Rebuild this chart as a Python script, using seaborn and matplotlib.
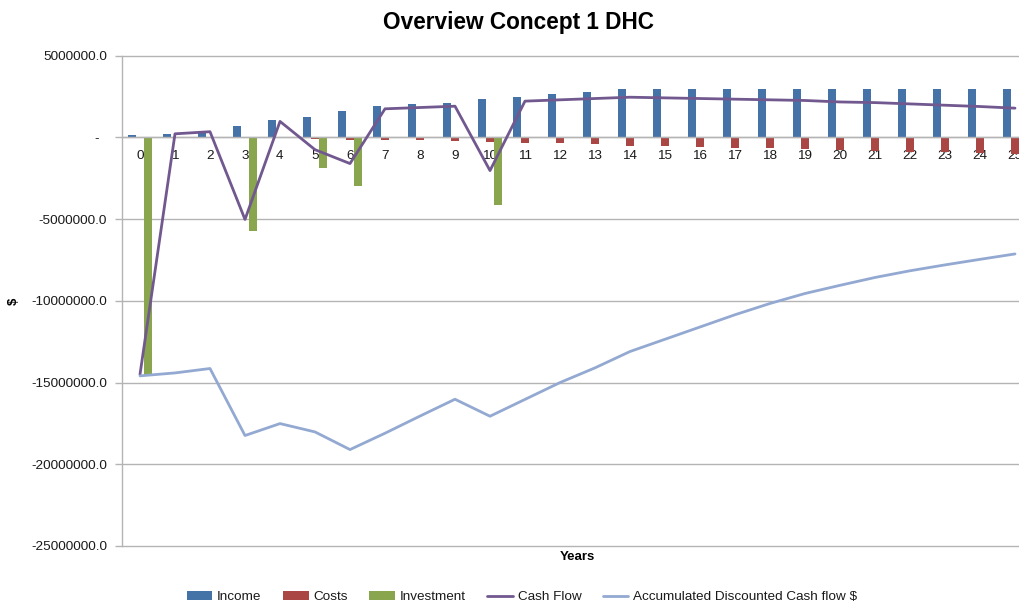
import numpy as np
import pandas as pd
import matplotlib
matplotlib.use("Agg")
import matplotlib.pyplot as plt
import seaborn as sns
from matplotlib import font_manager
from matplotlib.patches import Patch
from matplotlib.lines import Line2D
from matplotlib.ticker import FixedLocator, FuncFormatter

# ---------------- data ----------------
years = list(range(26))
income = [0.15e6, 0.22e6, 0.30e6, 0.71e6, 1.06e6, 1.26e6, 1.61e6, 1.91e6, 2.04e6, 2.12e6,
          2.36e6, 2.50e6, 2.66e6, 2.78e6, 2.97e6, 2.97e6, 2.97e6, 2.97e6, 2.97e6, 2.97e6,
          2.97e6, 2.97e6, 2.97e6, 2.97e6, 2.97e6, 2.97e6]
costs = [0.0, 0.0, 0.0, 0.0, -0.06e6, -0.10e6, -0.14e6, -0.18e6, -0.18e6, -0.24e6,
         -0.28e6, -0.33e6, -0.37e6, -0.43e6, -0.51e6, -0.55e6, -0.59e6, -0.63e6, -0.67e6, -0.71e6,
         -0.79e6, -0.83e6, -0.87e6, -0.91e6, -0.96e6, -1.00e6]
investment = [-14.6e6, 0.0, 0.0, -5.7e6, 0.0, -1.85e6, -3.0e6, 0.0, 0.0, 0.0,
              -4.12e6, 0.0, 0.0, 0.0, 0.0, 0.0, 0.0, 0.0, 0.0, 0.0,
              0.0, 0.0, 0.0, 0.0, 0.0, 0.0]
cash_flow = [-14.5e6, 0.22e6, 0.35e6, -5.02e6, 0.98e6, -0.75e6, -1.6e6, 1.75e6, 1.83e6, 1.91e6,
             -2.03e6, 2.22e6, 2.30e6, 2.38e6, 2.46e6, 2.42e6, 2.38e6, 2.34e6, 2.30e6, 2.26e6,
             2.17e6, 2.13e6, 2.05e6, 1.97e6, 1.89e6, 1.79e6]
acc_dcf = [-14.59e6, -14.41e6, -14.14e6, -18.24e6, -17.51e6, -18.02e6, -19.1e6, -18.1e6, -17.05e6, -16.02e6,
           -17.06e6, -16.03e6, -15.0e6, -14.1e6, -13.1e6, -12.35e6, -11.6e6, -10.85e6, -10.16e6, -9.55e6,
           -9.05e6, -8.57e6, -8.16e6, -7.8e6, -7.46e6, -7.13e6]
bar_series = ["Income", "Costs", "Investment"]
line_series = ["Cash Flow", "Accumulated Discounted Cash flow $"]
y_ticks = [5e6, 0, -5e6, -10e6, -15e6, -20e6, -25e6]
title = "Overview Concept 1 DHC"

# ---------------- styling ----------------
colors = {"Income": "#4572A7", "Costs": "#AA4643", "Investment": "#89A54E",
          "Cash Flow": "#71588F", "Accumulated Discounted Cash flow $": "#93A9D2"}

sns.set_theme(style="white")
avail = {f.name for f in font_manager.fontManager.ttflist}
if "Liberation Sans Narrow" in avail:
    fam = "Liberation Sans Narrow"
    tick_fs, leg_fs, title_fs, lab_fs = 11.3, 11.3, 19, 11
else:
    fam = "Liberation Sans"
    tick_fs, leg_fs, title_fs, lab_fs = 9.7, 9.7, 16.3, 9.5
plt.rcParams["font.family"] = [fam, "DejaVu Sans"]

df_bars = pd.DataFrame({
    "year": years * 3,
    "value": income + costs + investment,
    "series": ["Income"] * 26 + ["Costs"] * 26 + ["Investment"] * 26,
})

fig = plt.figure(figsize=(10.2, 6.02), dpi=100)
W, H = 1020, 602
left, right, top, bottom = 122.5, 1032.5, 55.7, 546.0
ax = fig.add_axes([left / W, 1 - bottom / H, (right - left) / W, (bottom - top) / H])

sns.barplot(data=df_bars, x="year", y="value", hue="series", hue_order=bar_series,
            palette=[colors[s] for s in bar_series], width=0.69, gap=0,
            saturation=1, legend=False, ax=ax, zorder=2, linewidth=0)

df_lines = pd.DataFrame({"year": years, "Cash Flow": cash_flow,
                         "Accumulated Discounted Cash flow $": acc_dcf})
for s in line_series:
    sns.lineplot(data=df_lines, x="year", y=s, color=colors[s], lw=2.0, sort=False,
                 ax=ax, zorder=3, legend=False)

ax.set_xlim(-0.5, 25.5)
ax.set_ylim(-25e6, 5e6)

ax.yaxis.set_major_locator(FixedLocator(y_ticks))
ax.yaxis.set_major_formatter(FuncFormatter(lambda v, p: "-  " if v == 0 else f"{v:.1f}"))
ax.set_xticks(range(26))
ax.set_xticklabels([str(y) for y in years])

grid_c = "#B4B4B4"
ax.grid(axis="y", color=grid_c, lw=1.0, zorder=0)
ax.set_axisbelow(True)
for gl in ax.get_ygridlines():
    gl.set_clip_on(False)
for s in ["top", "right"]:
    ax.spines[s].set_visible(False)
ax.spines["left"].set_color(grid_c)
ax.spines["left"].set_linewidth(1.0)
ax.spines["bottom"].set_position(("data", 0))
ax.spines["bottom"].set_color(grid_c)
ax.spines["bottom"].set_linewidth(1.0)

ax.tick_params(axis="y", which="both", left=True, length=5, width=1.0, color=grid_c,
               pad=6, labelsize=tick_fs, labelcolor="#1a1a1a")
ax.tick_params(axis="x", which="both", bottom=False, length=0, pad=9,
               labelsize=tick_fs, labelcolor="#1a1a1a")

ax.set_xlabel("Years", fontsize=lab_fs, fontweight="bold", color="black")
ax.xaxis.set_label_coords(0.5, -(557 - bottom) / (bottom - top))
ax.xaxis.label.set_va("center")
ax.set_ylabel("$", fontsize=lab_fs, fontweight="bold", color="black")
ax.yaxis.set_label_coords(-(122.5 - 14) / (right - left), 0.5)
ax.yaxis.label.set_va("center")

fig.text(519 / W, 1 - 22 / H, title, ha="center", va="center",
         fontsize=title_fs, fontweight="bold", color="black")

handles = [Patch(facecolor=colors[s], edgecolor="none") for s in bar_series] + \
          [Line2D([0], [0], color=colors[s], lw=2.0) for s in line_series]
fig.legend(handles, bar_series + line_series, loc="center",
           bbox_to_anchor=(522 / W, 1 - 597 / H), ncol=5, frameon=False,
           fontsize=leg_fs, handlelength=1.9, handleheight=0.6, handletextpad=0.35,
           columnspacing=1.6, labelcolor="#1a1a1a")

fig.savefig("out.png", dpi=100)
